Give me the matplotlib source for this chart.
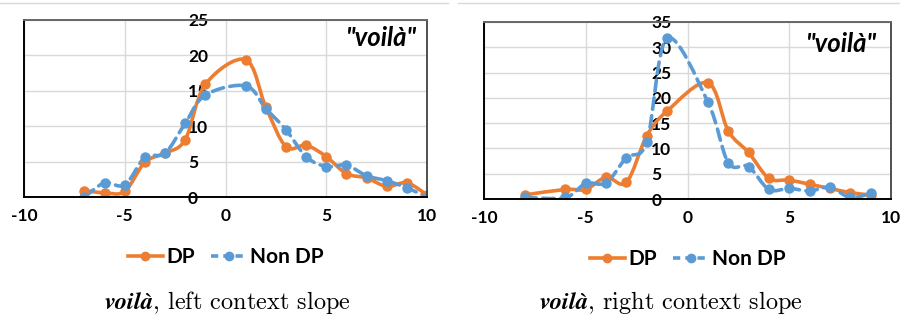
import numpy as np
import matplotlib
matplotlib.use('Agg')
import matplotlib.pyplot as plt
from matplotlib.path import Path
from matplotlib.patches import PathPatch
from matplotlib.lines import Line2D

plt.rcParams['font.family'] = ['Lato', 'DejaVu Sans']
plt.rcParams['font.weight'] = 'bold'
plt.rcParams['axes.unicode_minus'] = False
plt.rcParams['mathtext.fontset'] = 'custom'
plt.rcParams['mathtext.bf'] = 'STIXGeneral:italic:bold'
plt.rcParams['mathtext.rm'] = 'cmr10'

# left context slope
left_x = [-7, -6, -5, -4, -3, -2, -1, 1, 2, 3, 4, 5, 6, 7, 8, 9, 10]
left_dp = [0.9, 0.6, 0.8, 4.9, 6.2, 8.1, 15.9, 19.4, 12.7, 7.1, 7.3, 5.7, 3.3, 2.7, 1.5, 2.0, 0.3]
left_nondp = [0.0, 2.0, 1.7, 5.6, 6.2, 10.4, 14.4, 15.7, 12.5, 9.5, 5.7, 4.3, 4.5, 3.0, 2.3, 1.3, 0.0]

# right context slope
right_x = [-8, -6, -5, -4, -3, -2, -1, 1, 2, 3, 4, 5, 6, 7, 8, 9]
right_dp = [0.8, 1.9, 1.9, 4.3, 3.3, 12.5, 17.4, 23.0, 13.5, 9.2, 4.1, 3.75, 2.9, 2.1, 1.25, 0.8]
right_nondp = [0.3, 0.3, 3.1, 3.2, 8.2, 11.3, 31.8, 19.2, 7.2, 6.4, 1.9, 2.1, 1.6, 2.3, 0.3, 1.1]

xticks = [-10, -5, 0, 5, 10]
series_names = ['DP', 'Non DP']
orange = '#ED7D31'
blue = '#5B9BD5'


def smooth_path(xs, ys):
    # excel style smoothed line: bezier segments through the points
    pts = np.column_stack([xs, ys]).astype(float)
    n = len(pts)
    verts = [pts[0]]
    codes = [Path.MOVETO]
    for i in range(n - 1):
        p0 = pts[max(i - 1, 0)]
        p1 = pts[i]
        p2 = pts[i + 1]
        p3 = pts[min(i + 2, n - 1)]
        verts += [p1 + (p2 - p0) / 6, p2 - (p3 - p1) / 6, p2]
        codes += [Path.CURVE4] * 3
    return Path(verts, codes)


def draw_series(ax, xs, ys, color, dashed):
    ls = (0, (3.2, 1.8)) if dashed else '-'
    ax.add_patch(PathPatch(smooth_path(xs, ys), fill=False, edgecolor=color,
                           lw=2.6, linestyle=ls, capstyle='round', joinstyle='round'))
    ax.plot(xs, ys, 'o', color=color, markersize=7.5, markeredgewidth=0)


def slope_plot(rect, xs, dp, nondp, ymax, ypad, note_xy, caption, cap_x):
    ax = fig.add_axes(rect)
    draw_series(ax, xs, dp, orange, False)
    draw_series(ax, xs, nondp, blue, True)

    ax.set_xlim(-10, 10)
    ax.set_ylim(0, ymax)
    ax.set_xticks(xticks)
    ax.set_yticks(np.arange(0, ymax + 1, 5))
    ax.grid(color='#d9d9d9', lw=1)
    ax.set_axisbelow(True)

    ax.spines['left'].set_position(('data', 0))
    ax.spines['left'].set_color('none')
    ax.spines['bottom'].set_color('black')
    ax.spines['bottom'].set_linewidth(1.4)
    ax.spines['top'].set_color('#666666')
    ax.spines['top'].set_linewidth(1.4)
    ax.spines['right'].set_color('#333333')
    ax.spines['right'].set_linewidth(1.2)
    ax.plot([0, 0], [0, 1], transform=ax.transAxes, color='black', lw=1.4, clip_on=False)

    ax.tick_params(axis='x', length=0, pad=8, labelsize=12.5)
    ax.tick_params(axis='y', length=0, pad=ypad, labelsize=12.5)
    for lab in ax.get_yticklabels():
        lab.set_horizontalalignment('left')

    ax.text(note_xy[0], note_xy[1], '"voilà"', transform=ax.transAxes, ha='right', va='center',
            fontsize=18.5, style='italic', fontweight='bold')

    handles = [Line2D([], [], color=orange, lw=2.6, marker='o', markersize=6),
               Line2D([], [], color=blue, lw=2.6, ls=(0, (2.0, 1.4)), marker='o', markersize=6)]
    ax.legend(handles, series_names, loc='center', bbox_to_anchor=(0.5, -0.34), ncol=2,
              frameon=False, fontsize=15, handlelength=1.7, handletextpad=0.15, columnspacing=0.8)

    fig.text(cap_x, 1 - 302 / 317, r'$\mathbf{voilà}$' + caption, ha='center', va='center',
             fontsize=17.5, fontweight='normal', family='cmr10')
    return ax


fig = plt.figure(figsize=(9, 3.17), dpi=100)
fig.add_artist(Line2D([0, 0.498], [0.991, 0.991], color='#d9d9d9', lw=1))
fig.add_artist(Line2D([0.509, 1], [0.991, 0.991], color='#d9d9d9', lw=1))

slope_plot([24 / 900, 120 / 317, 403 / 900, 177 / 317], left_x, left_dp, left_nondp, 25, 27,
           (0.975, 0.90), ', left context slope', 0.253)
slope_plot([484 / 900, 118 / 317, 407 / 900, 177 / 317], right_x, right_dp, right_nondp, 35, 26,
           (0.966, 0.875), ', right context slope', 0.745)

plt.savefig('out.png', dpi=100)
